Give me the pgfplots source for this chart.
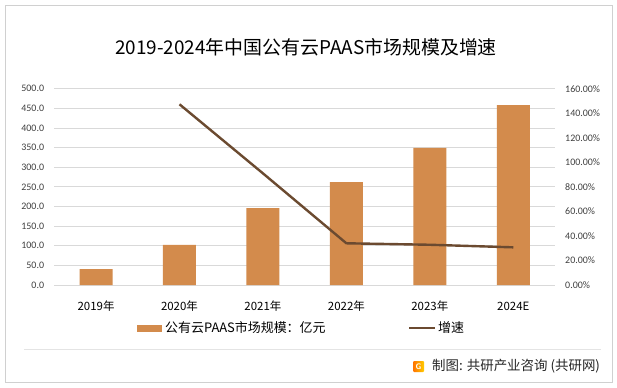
\documentclass[border=0pt]{standalone}
\usepackage{fontspec}
\usepackage{pgfplots}
\pgfplotsset{compat=1.18}
\setmainfont{Carlito}
\newfontfamily\cjk{Noto Sans CJK SC}
\definecolor{barc}{HTML}{D38B4C}
\definecolor{linec}{HTML}{6B4A30}
\definecolor{gridc}{HTML}{D9D9D9}
\definecolor{txt}{HTML}{404040}
\definecolor{framec}{HTML}{D0D0D0}
\begin{document}
\begin{tikzpicture}[x=1bp,y=1bp]
\useasboundingbox (0,0) rectangle (617,387);
\fill[white] (0,0) rectangle (617,387);
\draw[framec,line width=0.8bp] (5,5) rectangle (612,382);
\draw[gridc!70,line width=0.6bp] (24,38) -- (601,38);
\node[font=\cjk\fontsize{19}{22}\selectfont,text=black] at (306,340) {2019-2024年中国公有云PAAS市场规模及增速};
\begin{axis}[
  at={(54.3bp,102bp)}, anchor=south west, scale only axis,
  width=500.7bp, height=196.3bp,
  xmin=-0.5, xmax=5.5, ymin=0, ymax=500,
  axis line style={draw=none}, major tick length=0,
  ytick={0,50,...,500}, ymajorgrids, grid style={gridc, line width=0.8bp},
  xtick={0,...,5},
  xticklabels={2019年,2020年,2021年,2022年,2023年,2024E},
  xticklabel style={font=\cjk\fontsize{11.5}{13}\selectfont, text=black, anchor=center, yshift=-21bp},
  yticklabel style={font=\fontsize{10}{12}\selectfont, text=txt, anchor=east, inner sep=0pt, xshift=-10bp},
  /pgf/number format/assume math mode=true,
  yticklabel={\pgfmathprintnumber[fixed,fixed zerofill,precision=1]{\tick}},
  clip=false,
]
\addplot[ybar, bar width=33bp, fill=barc, draw=none, bar shift=0pt] coordinates {
(0,40.7) (1,101.9) (2,196.1) (3,262.3) (4,349.0) (5,458.4)};
\end{axis}
\begin{axis}[
  at={(54.3bp,102bp)}, anchor=south west, scale only axis,
  width=500.7bp, height=196.3bp,
  xmin=-0.5, xmax=5.5, ymin=0, ymax=160,
  axis line style={draw=none}, major tick length=0,
  axis y line*=right, axis x line=none,
  ytick={0,20,...,160},
  yticklabel style={font=\fontsize{10}{12}\selectfont, text=txt, anchor=west, inner sep=0pt, xshift=10bp},
  /pgf/number format/assume math mode=true,
  yticklabel={\pgfmathprintnumber[fixed,fixed zerofill,precision=2]{\tick}\%},
]
\addplot[linec, line width=2.4bp, mark=none] coordinates {
(1,147.3) (2,91.0) (3,34.0) (4,32.8) (5,30.7)};
\end{axis}
% legend
\fill[barc] (137,55.5) rectangle (162,62.5);
\node[font=\cjk\fontsize{13}{15}\selectfont,anchor=west,inner sep=0pt] at (165,59) {公有云PAAS市场规模：亿元};
\draw[linec,line width=2.4bp] (409,59) -- (435,59);
\node[font=\cjk\fontsize{13}{15}\selectfont,anchor=west,inner sep=0pt] at (438,59) {增速};
% footer
\shade[left color=orange!90!red, right color=orange!40!yellow, rounded corners=1bp] (413,15) rectangle (424,26);
\node[font=\sffamily\bfseries\fontsize{8}{8}\selectfont,text=white,inner sep=0pt] at (418.5,20.5) {G};
\node[font=\cjk\fontsize{13.5}{15}\selectfont,anchor=west,inner sep=0pt,text=black!85] at (432,21) {制图: 共研产业咨询 (共研网)};
\end{tikzpicture}
\end{document}
